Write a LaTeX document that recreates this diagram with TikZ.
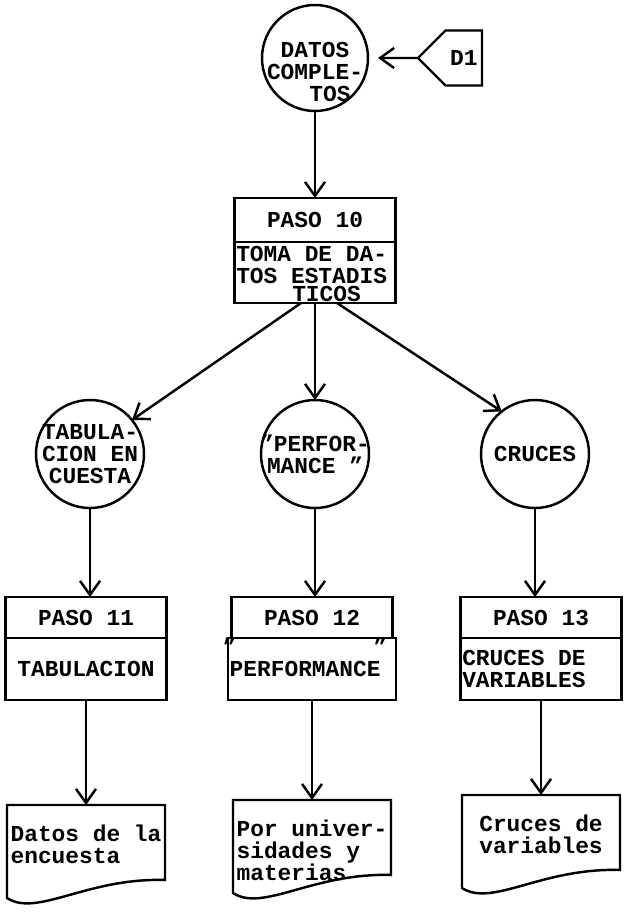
\documentclass[tikz,border=0pt]{standalone}
\usepackage{fontspec}
\setmainfont{Liberation Mono}[WordSpace={1,0,0}, PunctuationSpace=WordSpace]
\usetikzlibrary{arrows.meta, positioning, calc, shapes.symbols}

% document symbol: straight top, wavy bottom
\newcommand{\docoutline}[1]{%
  \draw (#1.north west) -- (#1.north east) -- ++(0,-1.5)
    .. controls +(-1.56,0.05) and +(0.6,-0.39) .. ($(#1.north west)+(0,-1.86)$)
    -- cycle;%
}

\begin{document}
\begin{tikzpicture}[
  >={Straight Barb[length=2.8mm, width=4mm]}, line width=1.4pt,
  font=\fontsize{13pt}{12.5pt}\selectfont\bfseries,
  bubble/.style={draw, circle, minimum size=2.16cm, inner sep=-0.5cm,
                 outer sep=0pt, align=center},
  stephead/.style={draw, minimum width=3.22cm, minimum height=0.82cm,
                   inner sep=0pt, outer sep=0pt},
  stepbody/.style={draw, minimum width=3.22cm, minimum height=1.24cm,
                   inner xsep=0.035cm, inner ysep=0pt, outer sep=0pt,
                   align=center},
  docnode/.style={minimum width=3.16cm, inner xsep=1pt, inner ysep=0.4cm,
                  outer sep=0pt, align=left},
  arr/.style={->}
]
\useasboundingbox (0,0) rectangle (12.52,-18.24);

%% ── INPUT ────────────────────────────────────────────────────────────────────

\node[bubble, minimum size=2.12cm] (dc) at (6.30,-1.16) {
  \rule{0pt}{0.87cm}DATOS\\COMPLE-\\\hspace*{0.6cm}TOS
};

\node[draw, signal, signal to=west, minimum width=1.28cm, minimum height=1.1cm,
      inner sep=0pt, outer sep=0pt, right=1.0cm of dc] (d1) {D1};

%% ── PASO 10 ──────────────────────────────────────────────────────────────────

\node[stephead, minimum height=0.88cm, below=1.74cm of dc] (p10h) {PASO 10};
\node[stepbody, minimum height=1.22cm, text width=3.15cm, align=flush left,
      below=0pt of p10h] (p10b) {
  \rule{0pt}{0.36cm}TOMA DE DA-\\TOS ESTADIS\\[-2.5pt]\hspace*{1.12cm}TICOS
};

%% ── PROCESSES ────────────────────────────────────────────────────────────────

\node[bubble, below=1.94cm of p10b] (perfc) {"PERFOR-\\MANCE~"};
\node[bubble, left=2.34cm of perfc] (tabc) {TABULA-\\CION EN\\CUESTA};
\node[bubble, right=2.24cm of perfc] (cruc) {CRUCES};

%% ── PASOS 11-13 ──────────────────────────────────────────────────────────────

\node[stephead, below=1.78cm of tabc, xshift=-0.08cm] (p11h) {PASO 11};
\node[stepbody, below=0pt of p11h] (p11b) {TABULACION};

\node[stephead, below=1.78cm of perfc, xshift=-0.06cm] (p12h) {PASO 12};
\node[stepbody, below=0pt of p12h] (p12b) {
  \smash{\makebox[0pt][r]{\raisebox{0.95em}{"}\hspace{-0.3em}}}PERFORMANCE%
  \smash{\makebox[0pt][l]{\hspace{-0.3em}\raisebox{0.95em}{"}}}
};

\node[stephead, below=1.78cm of cruc, xshift=0.12cm] (p13h) {PASO 13};
\node[stepbody, text width=3.15cm, align=flush left, below=0pt of p13h] (p13b) {
  CRUCES DE\\VARIABLES
};

%% ── DOCUMENTS ────────────────────────────────────────────────────────────────

\node[docnode, below=2.1cm of p11b] (doc11) {Datos de la\\encuesta};
\docoutline{doc11}
\node[docnode, below=2.0cm of p12b] (doc12) {Por univer-\\sidades y\\materias};
\docoutline{doc12}
\node[docnode, below=1.9cm of p13b] (doc13) {Cruces de\\variables};
\docoutline{doc13}

%% ── ARROWS ───────────────────────────────────────────────────────────────────

\draw[arr, shorten >=0.2cm] (d1) -- (dc);
\draw[arr] (dc) -- (p10h);

\draw[arr] ($(p10b.south)+(-0.28,0)$) -- (tabc.39);
\draw[arr] (p10b) -- (perfc);
\draw[arr] ($(p10b.south)+(0.44,0)$) -- (cruc.128);

\draw[arr] (tabc)  -- (tabc  |- p11h.north);
\draw[arr] (perfc) -- (perfc |- p12h.north);
\draw[arr] (cruc)  -- (cruc  |- p13h.north);

\draw[arr] (p11b) -- (doc11);
\draw[arr] (p12b) -- (doc12);
\draw[arr] (p13b) -- (doc13);

\end{tikzpicture}
\end{document}
